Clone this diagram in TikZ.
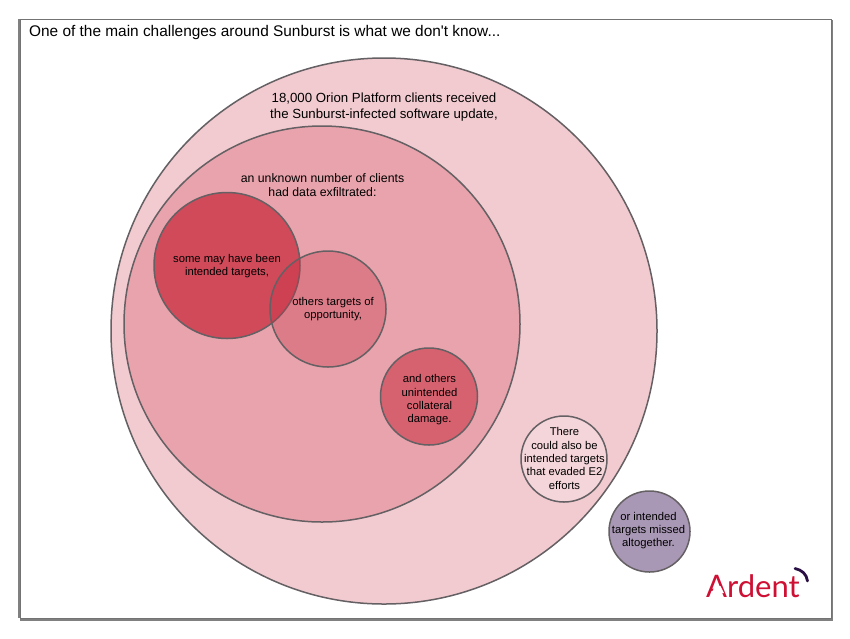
\documentclass[tikz,border=0pt]{standalone}
\usepackage{fontspec}
\setmainfont{Liberation Sans}
\newfontfamily\rawfont{Liberation Sans}
\newfontfamily\logofont{Lato}
\definecolor{edgegrey}{HTML}{646063}
\definecolor{ardred}{HTML}{CE1034}
\definecolor{ardplum}{HTML}{2A0F45}
\definecolor{outerfill}{HTML}{F2CBD0}
\definecolor{innerfill}{HTML}{E8A3AC}
\definecolor{intendfill}{HTML}{D04A5A}
\definecolor{oppbase}{HTML}{C83246}
\definecolor{collatfill}{HTML}{D7626F}
\definecolor{evadefill}{HTML}{F4D5D9}
\definecolor{missfill}{HTML}{A998B5}
\tikzset{
  x=1pt,y=-1pt,
  venn/.style={circle,draw=edgegrey,line width=1.5pt,inner sep=0pt,anchor=center,align=center,text=black},
  lbl/.style={font=\fontsize{11.25}{13.3}\selectfont,align=center,text=black,inner sep=0pt},
  biglbl/.style={font=\fontsize{13.25}{16}\selectfont,align=center,text=black,inner sep=0pt},
}
\begin{document}
\begin{tikzpicture}
\useasboundingbox (0,0) rectangle (850,638);
\fill[white] (0,0) rectangle (850,638);
\fill[black!50] (20,20) rectangle (832.6,620.8);
\fill[black!50] (18,18.5) rectangle (21,618);
\node[draw=black!55,line width=1pt,fill=white,minimum width=811.3pt,minimum height=599pt,inner sep=0pt,anchor=north west] (frame) at (19.5,19) {};
\node[anchor=west,font=\rawfont\fontsize{15.4}{18}\selectfont,inner sep=0pt] (title) at (29,32.5) {One of the main challenges around Sunburst is what we don't know...};
\node[venn,fill=outerfill,minimum size=546pt] (clients) at (384,331) {};
\node[venn,fill=innerfill,minimum size=396pt] (exfil) at (322,324) {};
\node[venn,fill=intendfill,minimum size=146pt] (intended) at (227,265.5) {};
\node[venn,fill=oppbase,fill opacity=0.345,minimum size=116pt] (opp) at (328,309) {};
\node[venn,fill=collatfill,minimum size=97pt] (collat) at (429,396.5) {};
\node[venn,fill=evadefill,minimum size=86pt] (evade) at (564,459) {};
\node[venn,fill=missfill,minimum size=81pt] (miss) at (649.5,531.5) {};
\node[biglbl] (t1) at (384,107.3) {18,000 Orion Platform clients received\\the Sunburst-infected software update,};
\node[lbl,font=\fontsize{12.3}{14.6}\selectfont] (t2) at (322.5,185) {an unknown number of clients\\had data exfiltrated:};
\node[lbl] (t3) at (227,266) {some may have been\\intended targets,};
\node[lbl] (t4) at (333,309) {others targets of\\opportunity,};
\node[lbl] (t5) at (429.5,400) {and others\\unintended\\collateral\\damage.};
\node[lbl] (t6) at (564.5,458.5) {There\\could also be\\intended targets\\that evaded E2\\efforts};
\node[lbl] (t7) at (648.5,530.5) {or intended\\targets missed\\altogether.};
\node[anchor=base west,inner sep=0pt,text=ardred,font=\logofont\fontsize{31}{31}\selectfont] (logo) at (706,597) {Ardent};
\fill[white] (715,586) -- (720.4,586) -- (723.9,593) -- (711.5,593) -- cycle;
\draw[ardplum,line width=2.8pt,line cap=round] (795,568.5) .. controls (802,570) and (806.5,574) .. (807.5,581);
\end{tikzpicture}
\end{document}
